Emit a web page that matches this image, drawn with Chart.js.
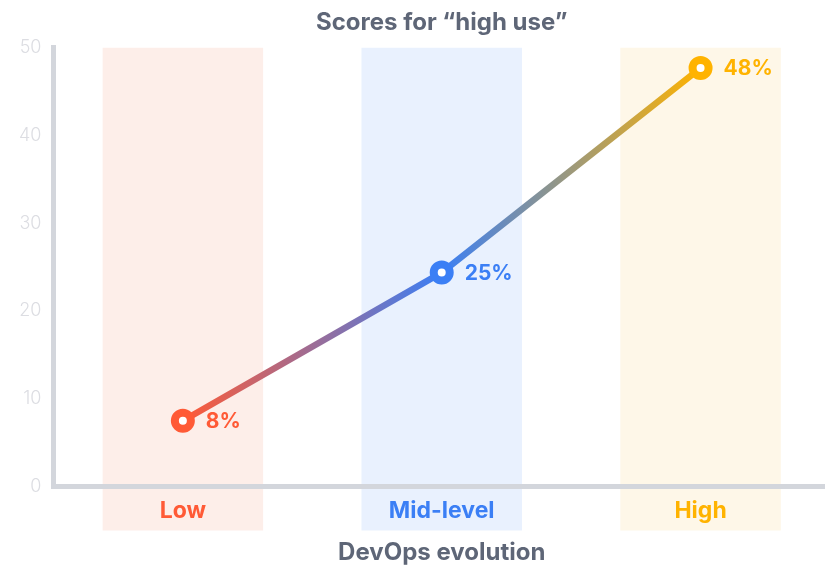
<!DOCTYPE html>
<html>
<head>
<meta charset="utf-8">
<script src="https://cdn.jsdelivr.net/npm/chart.js@4"></script>
<style>
  html, body { margin: 0; padding: 0; background: #fff; overflow: hidden; }
  #wrap { width: 846px; height: 567px; }
</style>
</head>
<body>
<div id="wrap"><canvas id="grafica" width="846" height="567"></canvas></div>
<script>
// Datos
const categorias = ["Low", "Mid-level", "High"];
const puntajes = [7.5, 24.4, 47.7];
const etiquetas = ["8%", "25%", "48%"];
const bandas = [[-5, 50], [-5, 50], [-5, 50]];
const ticksY = [0, 10, 20, 30, 40, 50];

const colores = ["#ff5a36", "#3b7ff5", "#ffb300"];
const coloresBanda = ["#fdeee9", "#e9f1fe", "#fef7e8"];
const gris = "#5e6677";
const fuente = "Inter, 'Noto Sans', sans-serif";

// Degradado de la línea a lo largo del eje X
function degradado(context) {
  const chart = context.chart;
  const x = chart.scales.x;
  if (!x || !chart.chartArea) return colores[0];
  const x0 = x.getPixelForValue(0);
  const x1 = x.getPixelForValue(categorias.length - 1);
  const g = chart.ctx.createLinearGradient(x0, 0, x1, 0);
  g.addColorStop(0, colores[0]);
  g.addColorStop(0.5, colores[1]);
  g.addColorStop(1, colores[2]);
  return g;
}

// Etiquetas de porcentaje junto a cada punto
const etiquetasPlugin = {
  id: "etiquetas",
  afterDatasetsDraw(chart) {
    const meta = chart.getDatasetMeta(0);
    const ctx = chart.ctx;
    ctx.save();
    ctx.font = "700 21px " + fuente;
    ctx.textAlign = "left";
    ctx.textBaseline = "middle";
    meta.data.forEach((pt, i) => {
      ctx.fillStyle = colores[i];
      ctx.fillText(etiquetas[i], pt.x + 23, pt.y + 1);
    });
    ctx.restore();
  }
};

const ctx = document.getElementById("grafica").getContext("2d");
new Chart(ctx, {
  type: "bar",
  data: {
    labels: categorias,
    datasets: [
      {
        type: "line",
        data: puntajes,
        borderColor: degradado,
        borderWidth: 6.5,
        pointRadius: 8,
        pointBorderWidth: 8,
        pointBackgroundColor: "#ffffff",
        pointBorderColor: colores,
        pointHoverRadius: 8,
        tension: 0,
        clip: false,
        order: 0
      },
      {
        type: "bar",
        data: bandas,
        backgroundColor: coloresBanda,
        categoryPercentage: 1,
        barPercentage: 0.62,
        borderSkipped: false,
        clip: false,
        order: 1
      }
    ]
  },
  options: {
    responsive: false,
    animation: false,
    layout: { padding: { left: 7, right: 0, top: 0, bottom: 0 } },
    plugins: {
      legend: { display: false },
      tooltip: { enabled: false },
      title: {
        display: true,
        text: "Scores for \u201chigh use\u201d",
        fullSize: false,
        color: gris,
        font: { family: fuente, size: 24, weight: "700" },
        padding: { top: 8, bottom: 11 }
      }
    },
    scales: {
      x: {
        offset: true,
        grid: { display: false, drawTicks: false },
        border: { display: true, width: 5, color: "#d3d6dc", z: 1 },
        ticks: {
          z: 1,
          padding: 11,
          color: colores,
          font: { family: fuente, size: 23, weight: "700" }
        },
        title: {
          display: true,
          text: "DevOps evolution",
          color: gris,
          font: { family: fuente, size: 24, weight: "700" },
          padding: { top: 2, bottom: 0 }
        }
      },
      y: {
        min: 0,
        max: 50,
        afterBuildTicks: (scale) => { scale.ticks = ticksY.map(v => ({ value: v })); },
        grid: { display: false, drawTicks: false },
        border: { display: true, width: 5, color: "#d3d6dc", z: 1 },
        ticks: {
          padding: 12,
          color: "#dcdde2",
          font: { family: fuente, size: 18, weight: "300" }
        }
      }
    }
  },
  plugins: [etiquetasPlugin]
});
</script>
</body>
</html>
